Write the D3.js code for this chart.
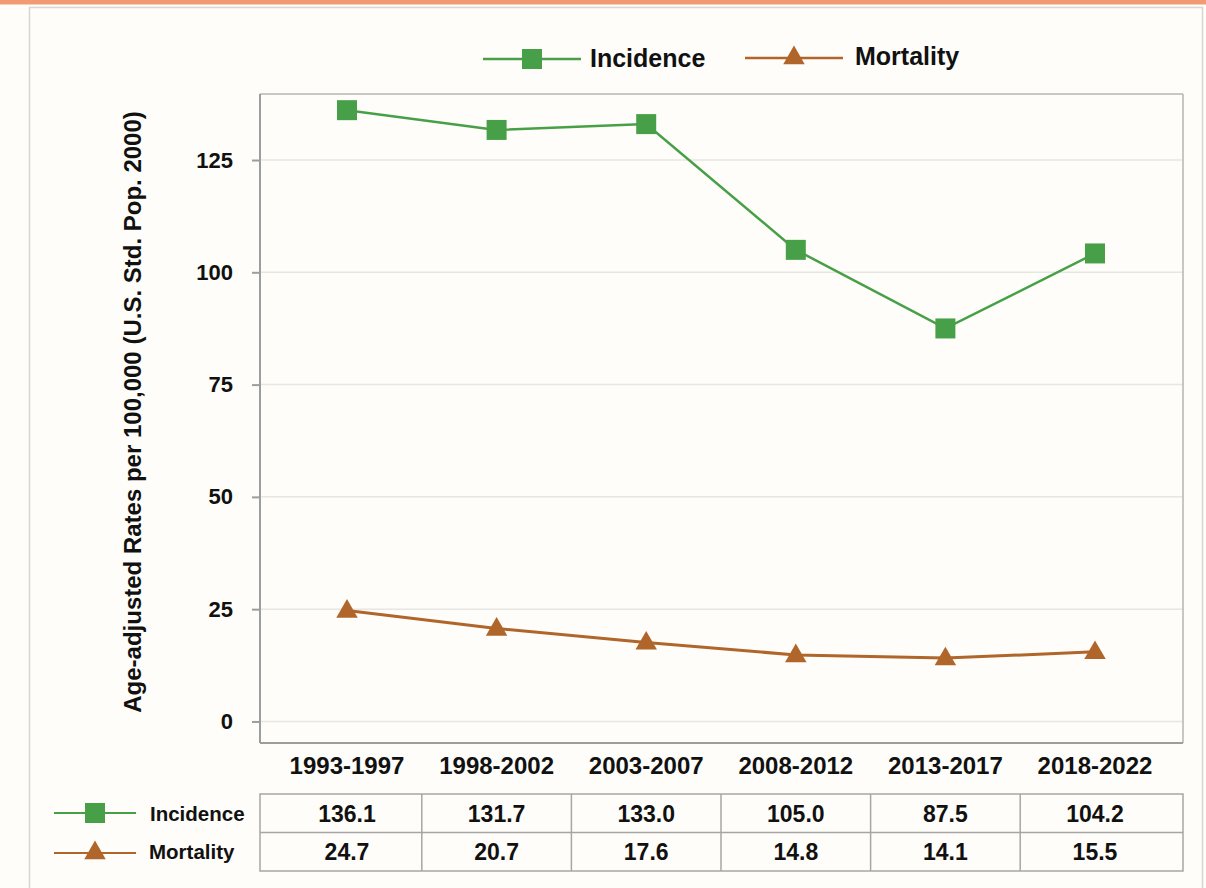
<!DOCTYPE html>
<html>
<head>
<meta charset="utf-8">
<script src="https://cdn.jsdelivr.net/npm/d3@7"></script>
<style>
  html, body { margin: 0; padding: 0; background: #fefdf9; }
  svg { display: block; font-family: "Liberation Sans", Arial, sans-serif; }
</style>
</head>
<body>
<div id="chart"></div>
<script>
const periods = ["1993-1997", "1998-2002", "2003-2007", "2008-2012", "2013-2017", "2018-2022"];
const incidence = [136.1, 131.7, 133.0, 105.0, 87.5, 104.2];
const mortality = [24.7, 20.7, 17.6, 14.8, 14.1, 15.5];
const yTicks = [0, 25, 50, 75, 100, 125];

const W = 1206, H = 888;
const green = "#47a047", brown = "#b0652a";
const plotL = 260, plotR = 1183, plotT = 94, plotB = 743;

const svg = d3.select("#chart").append("svg").attr("width", W).attr("height", H);

// card + orange stripe
svg.append("rect").attr("x", 0).attr("y", 0).attr("width", W).attr("height", H).attr("fill", "#fefdf9");
svg.append("rect").attr("x", 29.5).attr("y", 7.5).attr("width", 1173).attr("height", H)
  .attr("fill", "#fefdf9").attr("stroke", "#d6d6d6").attr("stroke-width", 1.5);
svg.append("rect").attr("x", 0).attr("y", 0).attr("width", W).attr("height", 4.5).attr("fill", "#f29b73");

const x = d3.scalePoint().domain(periods).range([347, 1095]);
const y = d3.scaleLinear().domain([-4.8, 139.7]).range([plotB, plotT]);

// gridlines
svg.append("g").selectAll("line").data(yTicks).enter().append("line")
  .attr("x1", plotL).attr("x2", plotR)
  .attr("y1", d => y(d)).attr("y2", d => y(d))
  .attr("stroke", "#e6e6e3").attr("stroke-width", 1.5);

// plot frame
svg.append("line").attr("x1", plotL).attr("x2", plotR).attr("y1", plotT).attr("y2", plotT).attr("stroke", "#b5b5b5").attr("stroke-width", 1.5);
svg.append("line").attr("x1", plotR).attr("x2", plotR).attr("y1", plotT).attr("y2", plotB).attr("stroke", "#b5b5b5").attr("stroke-width", 1.5);
svg.append("line").attr("x1", plotL).attr("x2", plotR).attr("y1", plotB).attr("y2", plotB).attr("stroke", "#9a9e9e").attr("stroke-width", 2);

// y axis
const yAxis = svg.append("g").attr("transform", `translate(${plotL},0)`)
  .call(d3.axisLeft(y).tickValues(yTicks).tickSize(8).tickPadding(19));
yAxis.select(".domain").attr("stroke", "#9a9e9e").attr("stroke-width", 2).attr("d", `M0,${plotT}V${plotB}`);
yAxis.selectAll(".tick line").attr("stroke", "#9a9e9e").attr("stroke-width", 2);
yAxis.selectAll(".tick text").attr("font-size", 22).attr("font-weight", "bold").attr("fill", "#111")
  .attr("font-family", "Liberation Sans, Arial, sans-serif");

svg.append("text")
  .attr("transform", `translate(141,412) rotate(-90)`)
  .attr("text-anchor", "middle").attr("font-size", 24).attr("font-weight", "bold").attr("fill", "#111")
  .text("Age-adjusted Rates per 100,000 (U.S. Std. Pop. 2000)");

// x labels
svg.append("g").selectAll("text").data(periods).enter().append("text")
  .attr("x", d => x(d)).attr("y", 774).attr("text-anchor", "middle")
  .attr("font-size", 24).attr("font-weight", "bold").attr("fill", "#111")
  .text(d => d);

const sym = d3.symbol().type(d3.symbolTriangle).size(200);

function drawSeries(vals, color, width, marker) {
  const pts = periods.map((p, i) => [x(p), y(vals[i])]);
  svg.append("path").datum(pts).attr("d", d3.line())
    .attr("fill", "none").attr("stroke", color).attr("stroke-width", width);
  const g = svg.append("g");
  if (marker === "square") {
    g.selectAll("rect").data(pts).enter().append("rect")
      .attr("x", d => d[0] - 10).attr("y", d => d[1] - 10)
      .attr("width", 20).attr("height", 20).attr("fill", color);
  } else {
    g.selectAll("path").data(pts).enter().append("path")
      .attr("d", sym).attr("transform", d => `translate(${d[0]},${d[1] + 1})`).attr("fill", color);
  }
}
drawSeries(incidence, green, 2.5, "square");
drawSeries(mortality, brown, 3, "triangle");

function legendKey(g, cx, cy, half, color, marker, w) {
  g.append("line").attr("x1", cx - half).attr("x2", cx + half).attr("y1", cy).attr("y2", cy)
    .attr("stroke", color).attr("stroke-width", w);
  if (marker === "square") {
    g.append("rect").attr("x", cx - 10).attr("y", cy - 10).attr("width", 20).attr("height", 20).attr("fill", color);
  } else {
    g.append("path").attr("d", sym).attr("transform", `translate(${cx},${cy})`).attr("fill", color);
  }
}

// top legend
const lg = svg.append("g");
legendKey(lg, 532, 59, 49, green, "square", 2.5);
lg.append("text").attr("x", 590).attr("y", 66.5).attr("font-size", 25).attr("font-weight", "bold").attr("fill", "#111").text("Incidence");
legendKey(lg, 794, 58, 49, brown, "triangle", 2.5);
lg.append("text").attr("x", 855).attr("y", 64.5).attr("font-size", 25).attr("font-weight", "bold").attr("fill", "#111").text("Mortality");

// data table
const tTop = 794, rowH = 38.5;
const bounds = [plotL].concat(periods.slice(1).map((p, i) => (x(periods[i]) + x(p)) / 2)).concat([plotR]);
const table = svg.append("g");
table.append("rect").attr("x", plotL).attr("y", tTop).attr("width", plotR - plotL).attr("height", rowH * 2)
  .attr("fill", "none").attr("stroke", "#a6a6a6").attr("stroke-width", 1.5);
table.append("line").attr("x1", plotL).attr("x2", plotR).attr("y1", tTop + rowH).attr("y2", tTop + rowH)
  .attr("stroke", "#a6a6a6").attr("stroke-width", 1.5);
table.selectAll("line.col").data(bounds.slice(1, -1)).enter().append("line").attr("class", "col")
  .attr("x1", d => d).attr("x2", d => d).attr("y1", tTop).attr("y2", tTop + rowH * 2)
  .attr("stroke", "#a6a6a6").attr("stroke-width", 1.5);

[incidence, mortality].forEach((vals, r) => {
  table.append("g").selectAll("text").data(vals).enter().append("text")
    .attr("x", (d, i) => x(periods[i])).attr("y", tTop + rowH * r + rowH / 2 + 8.5)
    .attr("text-anchor", "middle").attr("font-size", 23).attr("font-weight", "bold").attr("fill", "#111")
    .text(d => d.toFixed(1));
});

legendKey(table, 95, 813, 41, green, "square", 2);
table.append("text").attr("x", 150).attr("y", 821).attr("font-size", 20.5).attr("font-weight", "bold").attr("fill", "#111").text("Incidence");
legendKey(table, 95, 853, 41, brown, "triangle", 2);
table.append("text").attr("x", 149).attr("y", 859).attr("font-size", 20.5).attr("font-weight", "bold").attr("fill", "#111").text("Mortality");
</script>
</body>
</html>
